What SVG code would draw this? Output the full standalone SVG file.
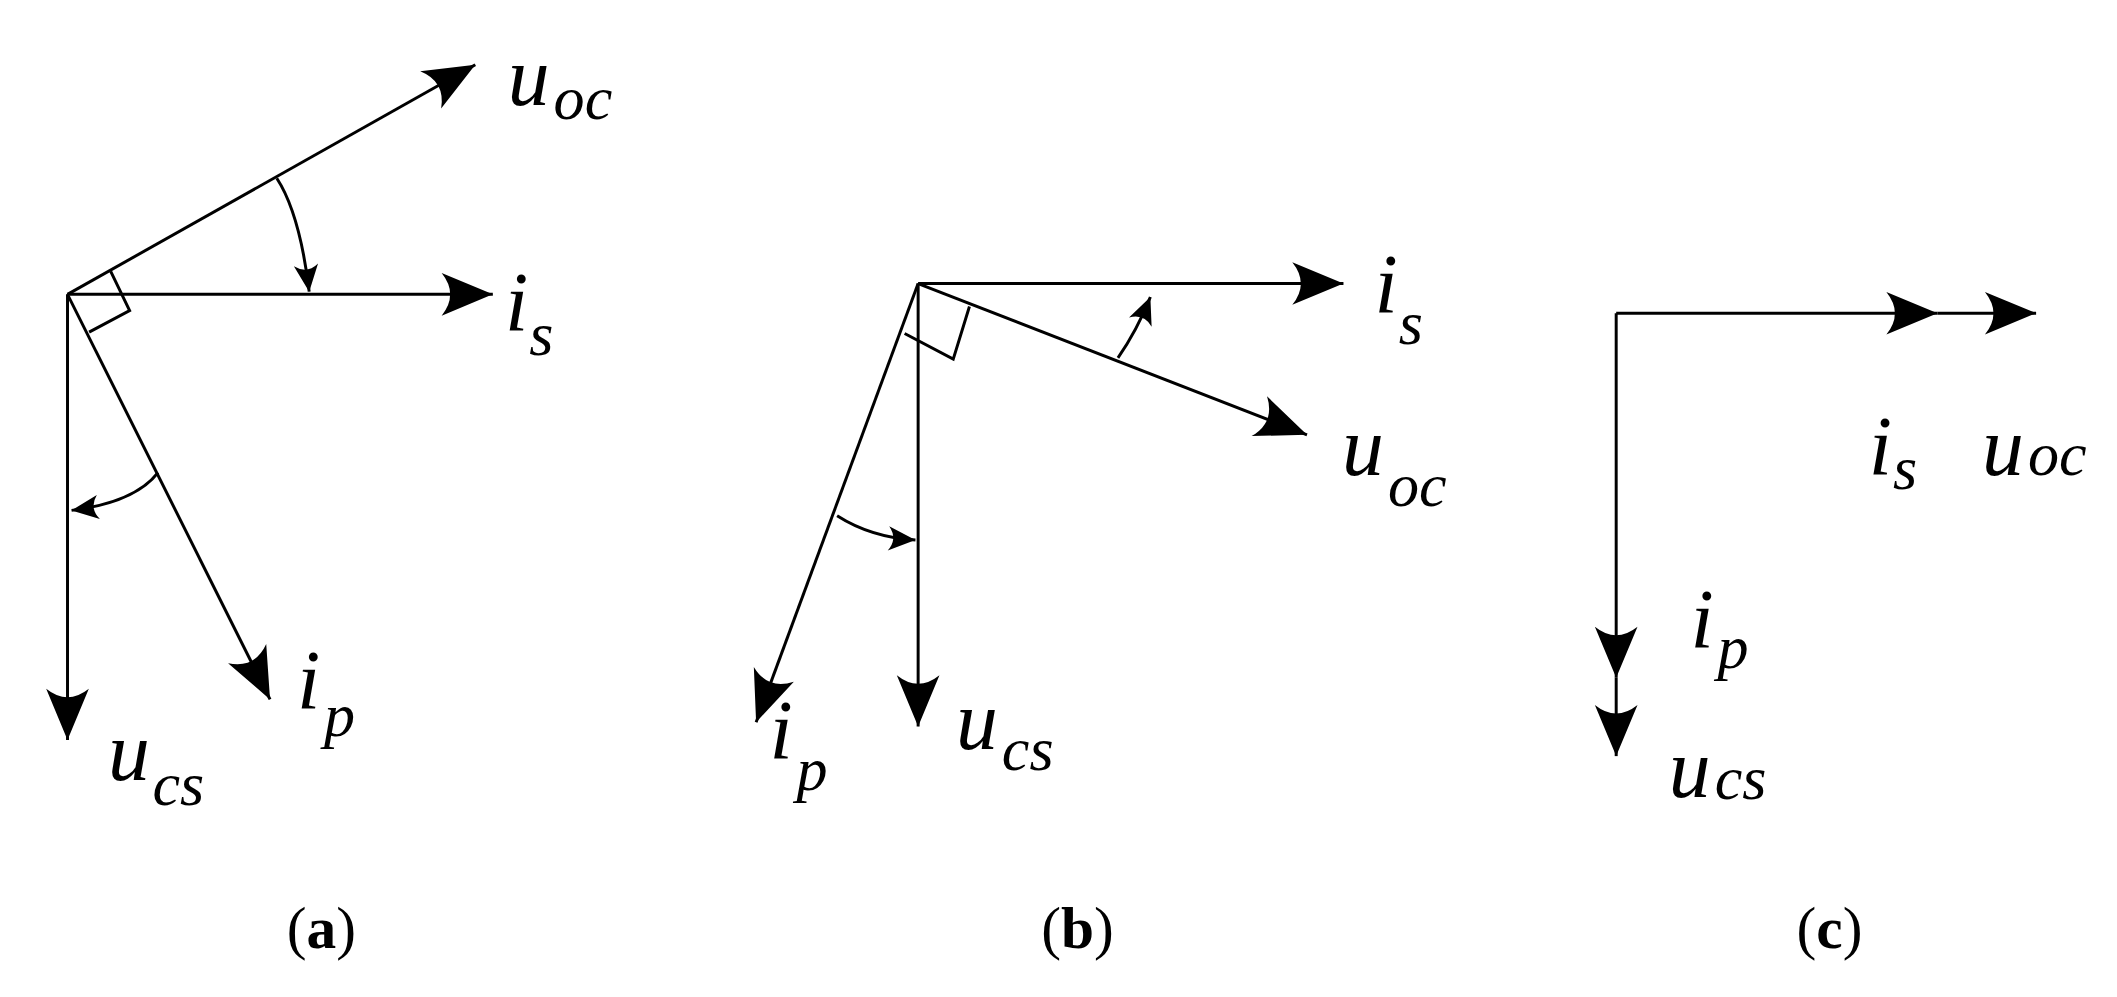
<svg xmlns="http://www.w3.org/2000/svg" width="2117" height="997" viewBox="0 0 2117 997">
<style>
.l{stroke:#000;stroke-width:2.2;fill:none}
.v{marker-end:url(#ah)}
.a{marker-end:url(#sh)}
.t{font-family:"Liberation Serif",serif;font-style:italic;fill:#000}
.m{font-size:62px}
.s{font-size:46px}
.c{font-family:"Liberation Serif",serif;font-size:44px;fill:#000;text-anchor:middle}
</style>
<defs>
<marker id="ah" markerUnits="userSpaceOnUse" markerWidth="40" markerHeight="34" viewBox="-37 -16 38 32" refX="0" refY="0" orient="auto" overflow="visible">
<path d="M0,0 L-36,-15 Q-24,0 -36,15 Z" fill="#000"/>
</marker>
<marker id="sh" markerUnits="userSpaceOnUse" markerWidth="24" markerHeight="20" viewBox="-21 -10 22 20" refX="0" refY="0" orient="auto" overflow="visible">
<path d="M0,0 L-20,-9 Q-13,0 -20,9 Z" fill="#000"/>
</marker>
</defs>
<rect width="2117" height="997" fill="#fff"/>
<g transform="scale(1.3502)">
<g id="connectors">
<line class="l v" x1="50" y1="218" x2="352" y2="48"/>
<line class="l v" x1="50" y1="218" x2="365" y2="218"/>
<line class="l v" x1="50" y1="218" x2="50" y2="548"/>
<line class="l v" x1="50" y1="218" x2="200" y2="518"/>
<polyline class="l" points="82,201 96,230 66,246"/>
<path class="l a" d="M205,132 Q222,158 229,216"/>
<path class="l a" d="M117,350 Q100,372 53,378"/>
<line class="l v" x1="680" y1="210" x2="995" y2="210"/>
<line class="l v" x1="680" y1="210" x2="968" y2="322"/>
<line class="l v" x1="680" y1="210" x2="680" y2="538"/>
<line class="l v" x1="680" y1="210" x2="560" y2="535"/>
<polyline class="l" points="670,247 706,266 718,227"/>
<path class="l a" d="M828,265 Q842,245 852,220"/>
<path class="l a" d="M620,382 Q645,398 678,400"/>
<line class="l v" x1="1197" y1="232" x2="1435" y2="232"/>
<line class="l v" x1="1435" y1="232" x2="1508" y2="232"/>
<line class="l v" x1="1197" y1="232" x2="1197" y2="502"/>
<line class="l v" x1="1197" y1="502" x2="1197" y2="560"/>
</g>
<g id="panel-a">
<text class="t m" x="376" y="78">u</text><text class="t s" x="410" y="88">oc</text>
<text class="t m" x="374" y="245">i</text><text class="t s" x="392" y="263">s</text>
<text class="t m" x="220" y="525">i</text><text class="t s" x="240" y="545">p</text>
<text class="t m" x="80" y="578">u</text><text class="t s" x="113" y="596">cs</text>
<text class="c" x="238" y="702"><tspan>(</tspan><tspan font-weight="bold">a</tspan><tspan>)</tspan></text>
</g>
<g id="panel-b">
<text class="t m" x="1018" y="232">i</text><text class="t s" x="1036" y="255">s</text>
<text class="t m" x="994" y="352">u</text><text class="t s" x="1028" y="375">oc</text>
<text class="t m" x="708" y="555">u</text><text class="t s" x="742" y="570">cs</text>
<text class="t m" x="570" y="562">i</text><text class="t s" x="590" y="585">p</text>
<text class="c" x="798" y="702"><tspan>(</tspan><tspan font-weight="bold">b</tspan><tspan>)</tspan></text>
</g>
<g id="panel-c">
<text class="t m" x="1384" y="352">i</text><text class="t s" x="1402" y="362">s</text>
<text class="t m" x="1468" y="352">u</text><text class="t s" x="1502" y="352">oc</text>
<text class="t m" x="1252" y="480">i</text><text class="t s" x="1272" y="495">p</text>
<text class="t m" x="1236" y="590">u</text><text class="t s" x="1270" y="592">cs</text>
<text class="c" x="1355" y="702"><tspan>(</tspan><tspan font-weight="bold">c</tspan><tspan>)</tspan></text>
</g>
</g>
</svg>
